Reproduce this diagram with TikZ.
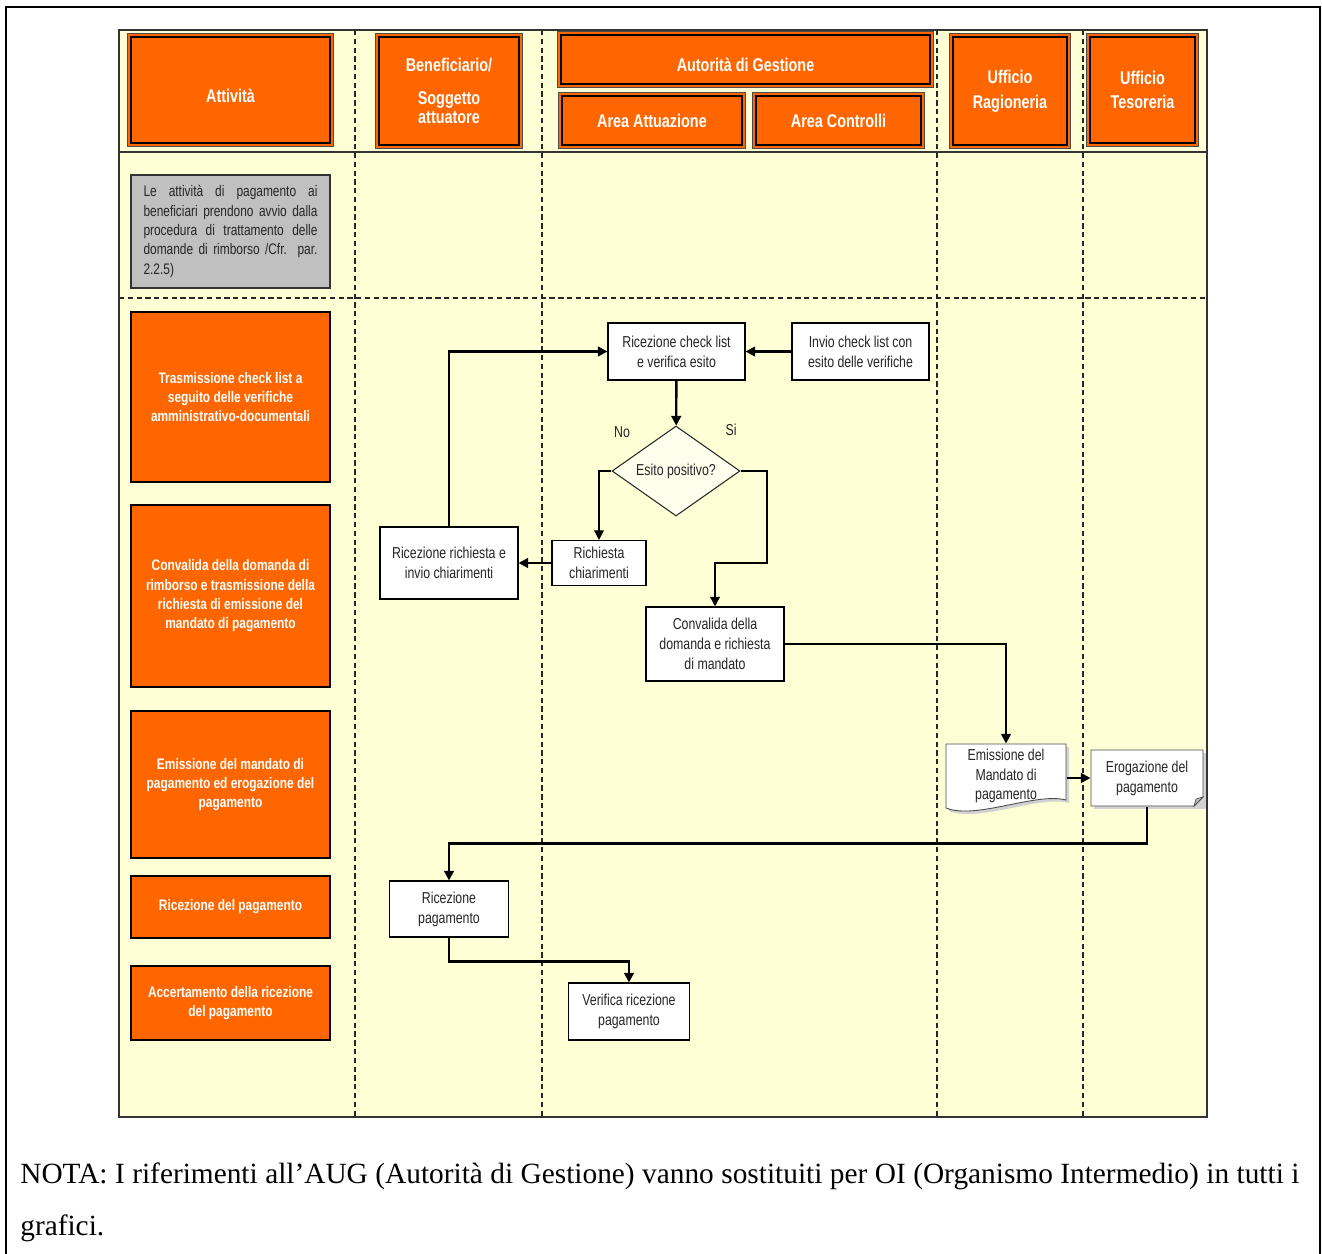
\documentclass[tikz,border=0pt]{standalone}
\usepackage{fontspec}
\setmainfont{Liberation Serif}
\newfontfamily\narrowfont[FakeStretch=0.78]{Liberation Sans}
\usetikzlibrary{shapes.geometric,arrows.meta}

\definecolor{laneyellow}{RGB}{255,255,213}
\definecolor{hdrorange}{RGB}{255,102,0}
\definecolor{notegray}{RGB}{192,192,192}

\tikzset{
  >={Triangle[length=5.5pt,width=5.5pt]},
  lane/.style={dashed, dash pattern=on 3pt off 2pt, line width=0.6pt, black!85},
  header/.style={fill=hdrorange, draw=black, line width=0.9pt, text=white,
    font=\narrowfont\bfseries\fontsize{10.5}{14}\selectfont, align=center, inner sep=0pt,
    preaction={draw=gray!60!black, line width=4.6pt},
    preaction={draw=hdrorange, line width=3.2pt}},
  activity/.style={fill=hdrorange, draw=black, line width=0.6pt, text=white,
    font=\narrowfont\bfseries\fontsize{8.7}{11}\selectfont, align=center,
    minimum width=3.98cm, inner sep=0pt},
  note/.style={fill=notegray, draw=black!80, line width=0.6pt, text=black!85,
    font=\narrowfont\fontsize{8.7}{11}\selectfont, align=justify,
    text width=3.48cm, minimum width=3.98cm, minimum height=2.26cm, inner xsep=0.25cm},
  flowbox/.style={draw=black, fill=white, line width=0.6pt, text=black!85,
    font=\narrowfont\fontsize{9}{11.3}\selectfont, align=center, inner sep=0pt},
  decision/.style={diamond, draw=black!85, fill=white!60!laneyellow, line width=0.6pt,
    text=black!85, font=\narrowfont\fontsize{9}{11.3}\selectfont, aspect=1.42,
    minimum width=2.56cm, minimum height=1.8cm, inner sep=0pt},
  lbl/.style={text=black!85, font=\narrowfont\fontsize{9}{11.3}\selectfont, inner sep=0pt},
  flow/.style={->, line width=1.35pt},
  branch/.style={->, line width=0.8pt}
}

\begin{document}
\begin{tikzpicture}[x=0.02cm, y=-0.02cm]
  \useasboundingbox (0,0) rectangle (1322,1254);

  % Frame
  \draw[line width=1.6pt] (6,1254) -- (6,7) -- (1320,7) -- (1320,1254);

  % Swimlanes
  \fill[laneyellow] (119,30) rectangle (1207,1117);
  \foreach \x in {355,542,937,1083}
    \draw[lane] (\x,30) -- (\x,1117);
  \draw[lane] (119,298) -- (1207,298);
  \draw[line width=0.6pt, black!80] (119,152) -- (1207,152);
  \draw[line width=0.6pt, black!80] (119,30) rectangle (1207,1117);

  % Headers
  \node[header, minimum width=3.98cm, minimum height=2.12cm] (att) at (230.5,90)
    {\raisebox{-7pt}[0pt][0pt]{Attività}};
  \node[header, minimum width=2.8cm, minimum height=2.16cm] (ben) at (449,91)
    {\raisebox{1pt}{Beneficiario/}\\[4pt]Soggetto\\[-3.2pt]attuatore};
  \node[header, minimum width=7.38cm, minimum height=0.98cm] (adg) at (745.5,59.5)
    {\raisebox{-7pt}[0pt][0pt]{Autorità di Gestione}};
  \node[header, minimum width=3.6cm, minimum height=0.98cm] (attu) at (652,120.5) {Area Attuazione};
  \node[header, minimum width=3.3cm, minimum height=0.98cm] (contr) at (838.5,120.5) {Area Controlli};
  \node[header, minimum width=2.28cm, minimum height=2.16cm] (rag) at (1010,91) {Ufficio\\Ragioneria};
  \node[header, minimum width=2.1cm, minimum height=2.12cm] (tes) at (1142.5,90) {Ufficio\\Tesoreria};

  % Attivita
  \node[note] (intro) at (230.5,231.5)
    {Le attività di pagamento ai\linebreak beneficiari prendono avvio dalla\linebreak
     procedura di trattamento delle\linebreak domande di rimborso /Cfr. par.\linebreak 2.2.5)};
  \node[activity, minimum height=3.4cm] (trasm) at (230.5,397)
    {Trasmissione check list a\\seguito delle verifiche\\amministrativo-documentali};
  \node[activity, minimum height=3.64cm] (convact) at (230.5,596)
    {Convalida della domanda di\\rimborso e trasmissione della\\richiesta di emissione del\\mandato di pagamento};
  \node[activity, minimum height=2.94cm] (emisact) at (230.5,784.5)
    {Emissione del mandato di\\pagamento ed erogazione del\\pagamento};
  \node[activity, minimum height=1.24cm] (ricact) at (230.5,907) {Ricezione del pagamento};
  \node[activity, minimum height=1.48cm] (accact) at (230.5,1003)
    {Accertamento della ricezione\\del pagamento};

  % Flusso
  \node[flowbox, minimum width=2.74cm, minimum height=1.14cm] (ric) at (676.5,351.5)
    {Ricezione check list\\e verifica esito};
  \node[flowbox, minimum width=2.74cm, minimum height=1.14cm] (inv) at (860.5,351.5)
    {Invio check list con\\esito delle verifiche};
  \node[decision] (esito) at (676,471) {Esito positivo?};
  \node[lbl] (no) at (622,432) {No};
  \node[lbl] (si) at (731,430) {Si};
  \node[flowbox, minimum width=1.88cm, minimum height=0.9cm] (rich) at (599,563)
    {Richiesta\\chiarimenti};
  \node[flowbox, minimum width=2.76cm, minimum height=1.44cm] (ricrich) at (449,563)
    {Ricezione richiesta e\\invio chiarimenti};
  \node[flowbox, minimum width=2.76cm, minimum height=1.48cm] (conv) at (715,644)
    {Convalida della\\domanda e richiesta\\di mandato};

  % Documento
  \fill[gray!35] (949,747) -- (1069,747) -- (1069,803)
    .. controls (1039,795) and (979,823) .. (949,811) -- cycle;
  \draw[draw=black!70, fill=white, line width=0.5pt] (946,744) -- (1066,744) -- (1066,800)
    .. controls (1036,792) and (976,820) .. (946,808) -- cycle;
  \node[flowbox, draw=none, fill=none, minimum width=2.4cm, minimum height=1.28cm] (emi) at (1006,776)
    {Emissione del\\Mandato di\\pagamento};

  \fill[gray!35] (1094,753) rectangle (1206,809);
  \draw[draw=black!70, fill=white, line width=0.5pt] (1091,750) -- (1203,750) -- (1203,797)
    -- (1194,806) -- (1091,806) -- cycle;
  \draw[draw=black!70, fill=gray!50, line width=0.4pt] (1203,797) -- (1196,799) -- (1194,806) -- cycle;
  \node[flowbox, draw=none, fill=none, minimum width=2.24cm, minimum height=1.12cm] (ero) at (1147,778)
    {Erogazione del\\pagamento};

  \node[flowbox, minimum width=2.38cm, minimum height=1.12cm] (ricpag) at (449,909)
    {Ricezione\\pagamento};
  \node[flowbox, minimum width=2.42cm, minimum height=1.14cm] (ver) at (629,1011.5)
    {Verifica ricezione\\pagamento};

  % Frecce
  \draw[flow] (inv) -- (ric);
  \draw[flow] (ric) -- (esito);
  \draw[branch] (esito.west) -| (rich.north);
  \draw[branch] (esito.east) -| (767,563) -| (conv.north);
  \draw[flow] (rich) -- (ricrich);
  \draw[flow] (ricrich.north) |- (ric.west);
  \draw[flow] (conv.east) -| (emi.north);
  \draw[flow] (emi.east |- ero.west) -- (ero.west);
  \draw[flow] (ero.south) -- ++(0,37) -| (ricpag.north);
  \draw[flow] (ricpag.south) -- ++(0,24) -| (ver.north);

  % Nota
  \node[anchor=base west, inner sep=0pt, font=\fontsize{16.7}{18}\selectfont] (nota) at (20,1183)
    {\makebox[728pt][s]{NOTA: I riferimenti all’AUG (Autorità di Gestione) vanno sostituiti per OI (Organismo Intermedio) in tutti i}};
  \node[anchor=base west, inner sep=0pt, font=\fontsize{16.7}{18}\selectfont] (nota2) at (20,1235) {grafici.};
\end{tikzpicture}
\end{document}
